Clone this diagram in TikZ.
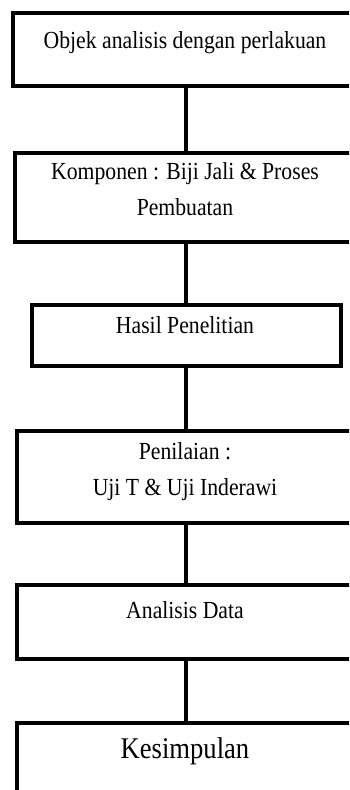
\documentclass[tikz,border=0pt]{standalone}
\usepackage{fontspec}
\usepackage{graphicx}
\setmainfont{Liberation Serif}
% slightly tall lettering
\newcommand{\tallline}[1]{\scalebox{1}[1.13]{#1}}
\begin{document}
\begin{tikzpicture}[x=1pt,y=-1pt,
  box/.style={draw=black,line width=4pt,rectangle,inner sep=0pt,anchor=north},
  label/.style={font=\fontsize{21.7}{36}\selectfont,align=center,anchor=base,inner sep=0pt},
  link/.style={draw=black,line width=4pt}]
\useasboundingbox (0,0) rectangle (349,790);
\clip (0,0) rectangle (349,790);
% boxes of the flow, all centred on x = 186
\node[box,minimum width=346pt,minimum height=73pt] (b1) at (186,11) {};
\node[box,minimum width=342pt,minimum height=89pt] (b2) at (186,151) {};
\node[box,minimum width=309pt,minimum height=61pt] (b3) at (186,303) {};
\node[box,minimum width=338pt,minimum height=92pt] (b4) at (186,429) {};
\node[box,minimum width=338pt,minimum height=74pt] (b5) at (186,583) {};
\node[box,minimum width=338pt,minimum height=120pt] (b6) at (186,721) {};
% texts (two-line labels are placed by the baseline of their last line)
\node[label] (t1) at (185,48) {\tallline{Objek analisis dengan perlakuan}};
\node[label] (t2) at (185,215) {\tallline{Komponen : Biji Jali \& Proses}\\\tallline{Pembuatan}};
\node[label] (t3) at (185,333) {\tallline{Hasil Penelitian}};
\node[label] (t4) at (185,495) {\tallline{Penilaian :}\\\tallline{Uji T \& Uji Inderawi}};
\node[label] (t5) at (185,618) {\tallline{Analisis Data}};
\node[label,font=\fontsize{26.6}{30}\selectfont] (t6) at (185,758) {\tallline{Kesimpulan}};
% connectors
\draw[link] (b1.south) -- (b2.north);
\draw[link] (b2.south) -- (b3.north);
\draw[link] (b3.south) -- (b4.north);
\draw[link] (b4.south) -- (b5.north);
\draw[link] (b5.south) -- (b6.north);
\end{tikzpicture}
\end{document}
